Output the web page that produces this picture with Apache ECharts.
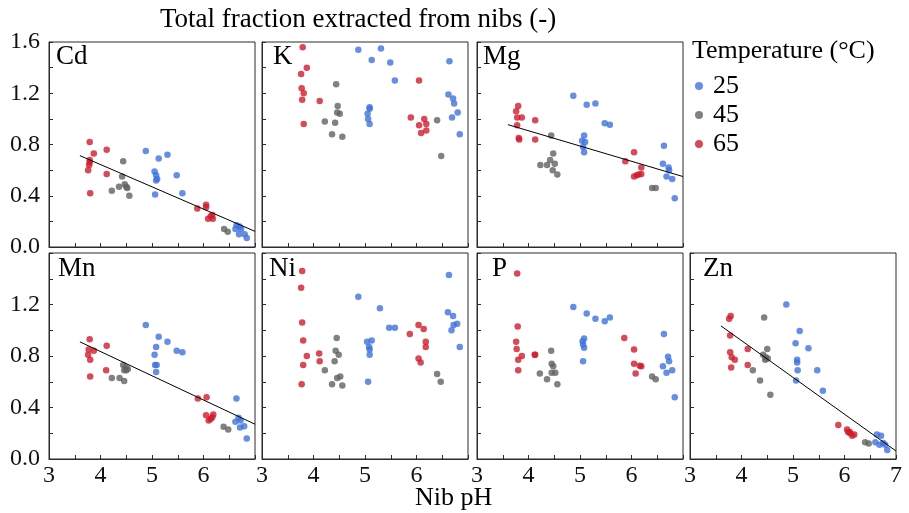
<!DOCTYPE html>
<html>
<head>
<meta charset="utf-8">
<script src="https://cdn.jsdelivr.net/npm/echarts@6/dist/echarts.min.js"></script>
<style>
  html, body { margin: 0; padding: 0; background: #fff; }
  #chart { width: 909px; height: 513px; }
</style>
</head>
<body>
<div id="chart"></div>
<script>
// Element panels, in reading order
const elements = ['Cd', 'K', 'Mg', 'Mn', 'Ni', 'P', 'Zn'];
const temperatures = ['25', '45', '65'];
const xTicks = [3, 4, 5, 6, 7];
const yTicks = [0.0, 0.4, 0.8, 1.2, 1.6];

// [nib pH, fraction extracted] per element and temperature
const cd25 = [[4.88,0.75],[5.13,0.69],[5.30,0.72],[5.05,0.59],[5.08,0.56],[5.10,0.53],[5.08,0.52],[5.48,0.56],[5.06,0.41],[5.59,0.42],[6.64,0.17],[6.62,0.14],[6.70,0.16],[6.73,0.14],[6.69,0.10],[6.80,0.10],[6.84,0.07]];
const cd45 = [[4.44,0.67],[4.42,0.55],[4.22,0.44],[4.36,0.47],[4.47,0.49],[4.50,0.47],[4.52,0.46],[4.56,0.40],[6.40,0.14],[6.47,0.12]];
const cd65 = [[3.79,0.82],[4.12,0.76],[3.87,0.73],[3.79,0.68],[3.79,0.66],[3.78,0.64],[3.76,0.60],[4.12,0.57],[3.80,0.42],[5.88,0.30],[6.05,0.33],[6.05,0.31],[6.09,0.22],[6.17,0.25],[6.18,0.22],[6.14,0.24]];

const k25 = [[4.87,1.54],[5.31,1.55],[5.13,1.46],[5.49,1.44],[5.58,1.30],[5.09,1.09],[5.09,1.08],[5.05,1.04],[5.06,1.00],[5.09,0.96],[6.64,1.45],[6.62,1.19],[6.71,1.16],[6.73,1.12],[6.80,1.05],[6.69,1.01],[6.84,0.88]];
const k45 = [[4.44,1.27],[4.47,1.10],[4.46,1.05],[4.51,1.04],[4.22,0.98],[4.42,0.97],[4.36,0.88],[4.56,0.86],[6.40,0.99],[6.48,0.71]];
const k65 = [[3.79,1.56],[3.87,1.40],[3.76,1.35],[3.77,1.24],[3.81,1.20],[3.78,1.15],[4.12,1.14],[3.81,0.96],[6.05,1.30],[5.89,1.01],[6.15,1.00],[6.05,0.95],[6.19,0.96],[6.09,0.89],[6.19,0.91]];

const mg25 = [[4.87,1.18],[5.13,1.11],[5.30,1.12],[5.48,0.965],[5.58,0.955],[5.08,0.87],[5.04,0.83],[5.10,0.82],[5.06,0.78],[5.08,0.74],[6.63,0.79],[6.61,0.65],[6.72,0.62],[6.73,0.60],[6.68,0.55],[6.79,0.53],[6.84,0.38]];
const mg45 = [[4.44,0.87],[4.48,0.73],[4.42,0.68],[4.51,0.65],[4.23,0.64],[4.36,0.64],[4.47,0.60],[4.56,0.565],[6.40,0.46],[6.47,0.46]];
const mg65 = [[3.80,1.10],[3.76,1.06],[3.78,1.01],[3.87,1.01],[3.78,0.95],[4.13,0.99],[3.81,0.85],[3.82,0.84],[4.13,0.84],[6.05,0.74],[5.88,0.67],[6.19,0.62],[6.05,0.55],[6.10,0.56],[6.14,0.565],[6.19,0.57]];

const mn25 = [[4.88,1.04],[5.13,0.95],[5.30,0.91],[5.08,0.87],[5.05,0.81],[5.48,0.84],[5.59,0.83],[5.06,0.73],[5.09,0.73],[5.08,0.675],[6.64,0.47],[6.68,0.32],[6.72,0.30],[6.62,0.29],[6.71,0.245],[6.79,0.255],[6.84,0.16]];
const mn45 = [[4.44,0.73],[4.49,0.71],[4.46,0.69],[4.53,0.70],[4.50,0.69],[4.22,0.63],[4.37,0.63],[4.46,0.605],[6.39,0.25],[6.48,0.23]];
const mn65 = [[3.79,0.93],[3.77,0.85],[3.87,0.84],[3.76,0.81],[3.80,0.77],[4.12,0.88],[4.11,0.69],[3.80,0.64],[5.89,0.47],[6.06,0.48],[6.05,0.34],[6.19,0.345],[6.10,0.30],[6.14,0.31],[6.17,0.325]];

const ni25 = [[4.87,1.26],[5.29,1.17],[5.47,1.02],[5.58,1.02],[5.04,0.91],[5.13,0.92],[5.08,0.87],[5.09,0.85],[5.09,0.81],[5.06,0.60],[6.63,1.43],[6.61,1.14],[6.71,1.11],[6.72,1.04],[6.79,1.05],[6.68,1.00],[6.84,0.87]];
const ni45 = [[4.45,0.94],[4.43,0.84],[4.49,0.81],[4.41,0.76],[4.22,0.69],[4.46,0.63],[4.52,0.64],[4.36,0.58],[4.56,0.57],[6.40,0.66],[6.47,0.60]];
const ni65 = [[3.78,1.46],[3.76,1.33],[3.78,1.06],[3.80,0.92],[3.87,0.80],[3.80,0.73],[3.77,0.58],[4.11,0.82],[4.12,0.76],[6.04,1.04],[6.14,1.01],[5.87,0.97],[6.18,0.91],[6.18,0.87],[6.04,0.78],[6.08,0.75]];

const p25 = [[4.87,1.18],[5.13,1.13],[5.30,1.09],[5.48,1.07],[5.58,1.10],[5.08,0.935],[5.05,0.915],[5.06,0.89],[5.08,0.865],[5.06,0.76],[6.63,0.97],[6.71,0.795],[6.73,0.76],[6.61,0.72],[6.79,0.69],[6.68,0.67],[6.84,0.48]];
const p45 = [[4.44,0.84],[4.45,0.74],[4.48,0.72],[4.45,0.67],[4.52,0.67],[4.22,0.665],[4.36,0.62],[4.56,0.58],[6.40,0.64],[6.47,0.62]];
const p65 = [[3.78,1.44],[3.79,1.03],[3.76,0.91],[3.77,0.855],[3.87,0.80],[3.80,0.77],[3.80,0.69],[4.12,0.81],[4.13,0.81],[5.86,0.94],[6.05,0.85],[6.05,0.74],[6.16,0.725],[6.19,0.72],[6.08,0.665]];

const zn25 = [[4.87,1.20],[5.13,0.995],[5.05,0.90],[5.30,0.86],[5.08,0.77],[5.08,0.75],[5.09,0.69],[5.47,0.69],[5.06,0.61],[5.58,0.53],[6.63,0.19],[6.71,0.18],[6.60,0.13],[6.68,0.11],[6.75,0.125],[6.79,0.11],[6.83,0.07]];
const zn45 = [[4.44,1.10],[4.50,0.855],[4.42,0.81],[4.47,0.79],[4.51,0.78],[4.46,0.77],[4.22,0.69],[4.36,0.61],[4.56,0.50],[6.40,0.13],[6.47,0.12]];
const zn65 = [[3.79,1.11],[3.76,1.09],[3.78,0.96],[3.78,0.83],[3.81,0.79],[3.87,0.77],[3.80,0.71],[4.12,0.855],[4.12,0.73],[5.88,0.265],[6.05,0.23],[6.07,0.21],[6.11,0.20],[6.15,0.18],[6.19,0.19],[6.10,0.21]];

// Linear trend lines (end points) for the elements that have one
const cdFit = [[3.6,0.713],[7.0,0.122]];
const mgFit = [[3.6,0.955],[7.0,0.55]];
const mnFit = [[3.6,0.91],[7.0,0.27]];
const znFit = [[3.6,1.034],[7.0,0.062]];

const panelData = {
  Cd: [cd25, cd45, cd65], K: [k25, k45, k65], Mg: [mg25, mg45, mg65],
  Mn: [mn25, mn45, mn65], Ni: [ni25, ni45, ni65], P: [p25, p45, p65],
  Zn: [zn25, zn45, zn65]
};
const panelFit = { Cd: cdFit, Mg: mgFit, Mn: mnFit, Zn: znFit };

const colors = ['#3f72dd', '#626262', '#cf1b2c'];
const FONT = 'Liberation Serif';

// Panel layout: top row holds Cd, K, Mg; bottom row Mn, Ni, P, Zn
const colLeft = [49, 262, 477, 690];
const panelW = 206;
const rowTop = [42, 253];
const rowH = [205, 206];
const slots = [[0,0],[0,1],[0,2],[1,0],[1,1],[1,2],[1,3]];
const labelPos = [[56,57.5],[273,57.5],[483,57.5],[58,269],[269,269],[492,269],[703,269]];

const grids = [], xAxes = [], yAxes = [], series = [], graphics = [];

elements.forEach((el, i) => {
  const [r, c] = slots[i];
  grids.push({
    left: colLeft[c], top: rowTop[r], width: panelW, height: rowH[r],
    show: true, borderColor: '#2b2b2b', borderWidth: 1, backgroundColor: 'transparent'
  });
  const bottomRow = r === 1;
  const isLast = i === elements.length - 1;
  xAxes.push({
    gridIndex: i, type: 'value', min: 3, max: 7, interval: 0.5,
    axisLine: { show: true, lineStyle: { color: '#2b2b2b', width: 1 } },
    axisTick: { show: true, inside: true, length: 4, lineStyle: { color: '#2b2b2b' } },
    splitLine: { show: false },
    axisLabel: {
      show: bottomRow, margin: 5, color: '#111', fontFamily: FONT, fontSize: 24,
      formatter: v => {
        const t = xTicks.find(k => Math.abs(k - v) < 1e-6);
        if (t === undefined) return '';
        if (t === 7 && !isLast) return '';
        return String(t);
      }
    }
  });
  yAxes.push({
    gridIndex: i, type: 'value', min: 0, max: 1.6, interval: 0.2,
    axisLine: { show: true, lineStyle: { color: '#2b2b2b', width: 1 } },
    axisTick: { show: true, inside: true, length: 4, lineStyle: { color: '#2b2b2b' } },
    splitLine: { show: false },
    axisLabel: {
      show: c === 0, margin: 9, color: '#111', fontFamily: FONT, fontSize: 24,
      formatter: v => {
        const t = yTicks.find(k => Math.abs(k - v) < 1e-6);
        if (t === undefined) return '';
        if (bottomRow && t === 1.6) return '';
        return t.toFixed(1);
      }
    }
  });
  panelData[el].forEach((pts, k) => {
    series.push({
      name: temperatures[k], type: 'scatter', xAxisIndex: i, yAxisIndex: i,
      data: pts, symbol: 'circle', symbolSize: 6.5,
      itemStyle: { color: colors[k] }, silent: true
    });
  });
  if (panelFit[el]) {
    series.push({
      type: 'line', xAxisIndex: i, yAxisIndex: i, data: panelFit[el],
      showSymbol: false, symbol: 'none', silent: true,
      lineStyle: { color: '#000', width: 1 }, z: 3
    });
  }
  graphics.push({
    type: 'text', left: labelPos[i][0], top: labelPos[i][1] - 14,
    style: { text: el, fontFamily: FONT, fontSize: 27, fill: '#000' }
  });
});

graphics.push({
  type: 'text', left: 160, top: 6,
  style: { text: 'Total fraction extracted from nibs (-)', fontFamily: FONT, fontSize: 27, fill: '#000' }
});
graphics.push({
  type: 'text', left: 692, top: 38,
  style: { text: 'Temperature (°C)', fontFamily: FONT, fontSize: 26, fill: '#000' }
});
graphics.push({
  type: 'text', left: 415, top: 485,
  style: { text: 'Nib pH', fontFamily: FONT, fontSize: 26, fill: '#000' }
});

const chart = echarts.init(document.getElementById('chart'), null, { renderer: 'canvas' });
chart.setOption({
  animation: false,
  backgroundColor: '#fff',
  textStyle: { fontFamily: FONT },
  grid: grids,
  xAxis: xAxes,
  yAxis: yAxes,
  series: series,
  legend: {
    data: temperatures.map((t, k) => ({ name: t, icon: 'circle', itemStyle: { color: colors[k] } })),
    orient: 'vertical', left: 690, top: 68, itemWidth: 18, itemHeight: 8, itemGap: 3,
    selectedMode: false,
    textStyle: { fontFamily: FONT, fontSize: 26, color: '#000', lineHeight: 26 }
  },
  graphic: graphics
});
</script>
</body>
</html>
